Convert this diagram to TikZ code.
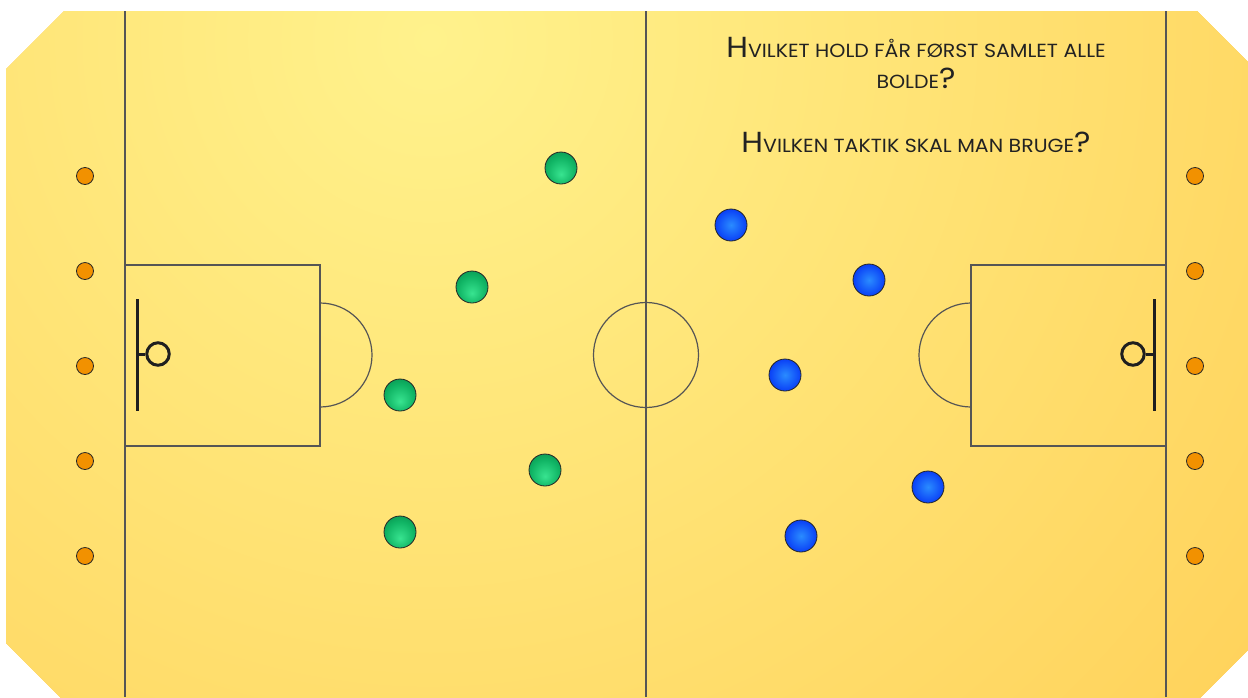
\documentclass[tikz,border=0pt]{standalone}
\usepackage{fontspec}
\newfontfamily\qfont[FakeStretch=1.08]{Poppins}
\definecolor{fieldin}{HTML}{FFF28C}
\definecolor{fieldout}{HTML}{FFC648}
\definecolor{gin}{HTML}{38E490}
\definecolor{gmid}{HTML}{10B464}
\definecolor{gout}{HTML}{006A35}
\definecolor{bin}{HTML}{2A8CFF}
\definecolor{bmid}{HTML}{0A40F6}
\definecolor{bout}{HTML}{0010D0}
\definecolor{dotfill}{HTML}{F29100}
\definecolor{linegray}{HTML}{555555}
\definecolor{txt}{HTML}{222222}
\pgfdeclareradialshading{fieldsh}{\pgfpoint{0bp}{0bp}}{color(0bp)=(fieldin); color(27bp)=(fieldout); color(50bp)=(fieldout)}
\pgfdeclareradialshading{gsh}{\pgfpoint{0bp}{-10bp}}{color(0bp)=(gin); color(22bp)=(gmid); color(50bp)=(gout)}
\pgfdeclareradialshading{bsh}{\pgfpoint{0bp}{0bp}}{color(0bp)=(bin); color(25bp)=(bmid); color(50bp)=(bout)}
\newcommand{\smc}[2]{{\fontsize{29}{33}\selectfont #1}{\fontsize{19}{23}\selectfont #2}}
\tikzset{
  markline/.style={draw=linegray, line width=1.2pt},
  goalline/.style={draw=black!88, line width=3pt},
  gball/.style={circle, inner sep=0pt, minimum size=32pt, draw=black!85, line width=0.8pt, shading=gsh},
  bball/.style={circle, inner sep=0pt, minimum size=32pt, draw=black!85, line width=0.8pt, shading=bsh},
  cone/.style={circle, inner sep=0pt, minimum size=17pt, draw=black!85, line width=0.8pt, fill=dotfill},
  qtext/.style={text=txt, font=\qfont, anchor=base, inner sep=0pt}
}
\begin{document}
\begin{tikzpicture}[x=1pt,y=-1pt]
\useasboundingbox (0,0) rectangle (1248,697);
\begin{scope}
  \clip (6,69) -- (64,11) -- (1197,11) -- (1250,64) -- (1250,648) -- (1195,703) -- (66,703) -- (6,643) -- cycle;
  \fill[fieldout] (0,0) rectangle (1260,710);
  \shade[shading=fieldsh] (430,40) circle (1350pt);
\end{scope}
% field markings
\draw[markline] (125,11) -- (125,697);
\draw[markline] (646,11) -- (646,697);
\draw[markline] (1166,11) -- (1166,697);
\draw[markline] (125,265) -- (320,265) -- (320,446) -- (125,446);
\draw[markline] (1166,265) -- (971,265) -- (971,446) -- (1166,446);
\draw[markline] (320,303) arc[start angle=90, end angle=-90, radius=52pt];
\draw[markline] (971,303) arc[start angle=90, end angle=270, radius=52pt];
\node[circle, draw=linegray, line width=1.2pt, minimum size=105pt, inner sep=0pt] (cc) at (646,355) {};
% goals
\draw[goalline] (137,299) -- (137,411);
\node[circle, draw=black!88, line width=3pt, minimum size=22.5pt, inner sep=0pt] (gl) at (158,354) {};
\draw[goalline] (137,354) -- (gl.west);
\draw[goalline] (1154,299) -- (1154,411);
\node[circle, draw=black!88, line width=3pt, minimum size=22.5pt, inner sep=0pt] (gr) at (1133,354) {};
\draw[goalline] (1154,354) -- (gr.east);
% cones
\foreach \i/\y in {1/176,2/271,3/366,4/461,5/556}{
  \node[cone] (cl\i) at (85,\y) {};
  \node[cone] (cr\i) at (1195,\y) {};
}
% green team
\node[gball] (g1) at (561,168) {};
\node[gball] (g2) at (472,287) {};
\node[gball] (g3) at (400,395) {};
\node[gball] (g4) at (545,470) {};
\node[gball] (g5) at (400,532) {};
% blue team
\node[bball] (b1) at (731,225) {};
\node[bball] (b2) at (869,280) {};
\node[bball] (b3) at (785,375) {};
\node[bball] (b4) at (928,487) {};
\node[bball] (b5) at (801,536) {};
% questions
\node[qtext] (q1) at (916,57) {\smc{H}{VILKET HOLD FÅR FØRST SAMLET ALLE}};
\node[qtext] (q1b) at (916,88) {\smc{}{BOLDE}\smc{?}{}};
\node[qtext] (q2) at (916,152) {\smc{H}{VILKEN TAKTIK SKAL MAN BRUGE}\smc{?}{}};
\end{tikzpicture}
\end{document}
